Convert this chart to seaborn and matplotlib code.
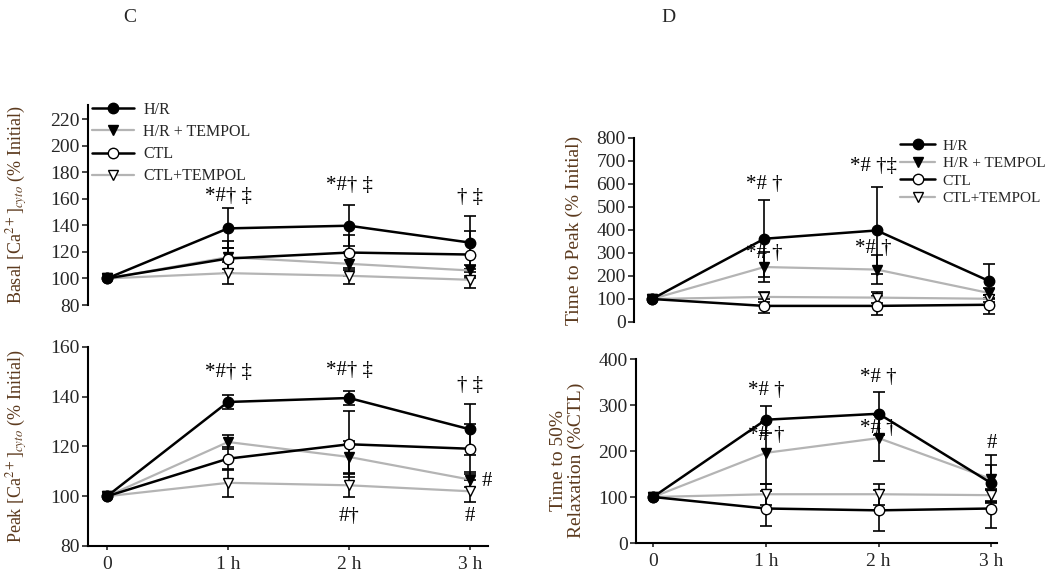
import matplotlib
matplotlib.use("Agg")
import matplotlib.pyplot as plt
import seaborn as sns
import numpy as np
import pandas as pd
from matplotlib.lines import Line2D

sns.set_style("white")
plt.rcParams['font.family'] = ['Liberation Serif', 'DejaVu Serif']
plt.rcParams['mathtext.fontset'] = 'stix'

# ---------------- data ----------------
time_pos = [0, 1, 2, 3]
time_labels = ["0", "1 h", "2 h", "3 h"]
series_names = ["H/R", "H/R + TEMPOL", "CTL", "CTL+TEMPOL"]

# Panel C top: Basal [Ca2+]cyto (% Initial)
basal_hr = [100, 137.7, 139.7, 127]
basal_hr_err = [0, 15, 15.5, 20]
basal_hrt = [100, 116, 111, 106]
basal_hrt_err = [0, 12, 9, 4]
basal_ctl = [100, 115, 119.5, 118]
basal_ctl_err = [0, 8, 13, 18]
basal_ctlt = [100, 104, 102, 99]
basal_ctlt_err = [0, 8.5, 6, 6]

# Panel C bottom: Peak [Ca2+]cyto (% Initial)
peak_hr = [100, 137.9, 139.5, 126.9]
peak_hr_err = [0, 3, 3, 10.3]
peak_hrt = [100, 121.8, 115.8, 106.7]
peak_hrt_err = [0, 3, 6.5, 3]
peak_ctl = [100, 115.1, 120.9, 119.1]
peak_ctl_err = [0, 4.7, 13.2, 10]
peak_ctlt = [100, 105.4, 104.4, 102]
peak_ctlt_err = [0, 5.7, 4.7, 4.5]

# Panel D top: Time to Peak (% Initial)
ttp_hr = [100, 362, 398, 178]
ttp_hr_err = [0, 167, 189, 76]
ttp_hrt = [100, 239, 228, 126]
ttp_hrt_err = [0, 65, 64, 20]
ttp_ctl = [100, 70, 70, 75]
ttp_ctl_err = [0, 31, 41, 42]
ttp_ctlt = [100, 109, 106, 101]
ttp_ctlt_err = [0, 21, 24, 15]

# Panel D bottom: Time to 50% Relaxation (%CTL)
t50_hr = [100, 268, 281, 130]
t50_hr_err = [0, 29, 47, 40]
t50_hrt = [100, 196, 228, 139]
t50_hrt_err = [0, 67, 50, 52]
t50_ctl = [100, 75, 71, 75]
t50_ctl_err = [0, 37, 44, 42]
t50_ctlt = [100, 106, 106, 104]
t50_ctlt_err = [0, 23, 23, 12]

# significance annotations (x, y, text)
basal_annot = [(1, 162, "*#† ‡"), (2, 170, "*#† ‡"), (3, 161, "† ‡")]
peak_annot = [(1, 149.9, "*#† ‡"), (2, 150.6, "*#† ‡"), (3, 144.5, "† ‡"),
              (3.14, 106, "#"), (2, 91.7, "#†"), (3, 91.7, "#")]
ttp_annot = [(1, 599, "*# †"), (1.97, 677, "*# †‡"), (1, 297, "*# †"), (1.97, 319, "*# †")]
t50_annot = [(1, 331, "*# †"), (2, 359, "*# †"), (1, 233, "*# †"), (2, 249, "*# †"), (3, 217, "#")]

# ---------------- style ----------------
GRAY = "#b4b4b4"
styles = {
    "H/R": dict(color="black", marker="o", mfc="black", lw=1.8, z=4),
    "H/R + TEMPOL": dict(color=GRAY, marker="v", mfc="black", lw=1.6, z=2),
    "CTL": dict(color="black", marker="o", mfc="white", lw=1.8, z=3),
    "CTL+TEMPOL": dict(color=GRAY, marker="v", mfc="white", lw=1.6, z=1),
}
LABEL_COLOR = "#5c3a1e"
MS = 7.5

fig = plt.figure(figsize=(10.5, 5.73), dpi=100)

def draw_panel(ax, vals, errs, ylim, yticks, annots, xlim, show_x):
    df = pd.DataFrame({
        "time": np.tile(time_pos, 4),
        "value": np.concatenate(vals),
        "err": np.concatenate(errs).astype(float),
        "series": np.repeat(series_names, 4),
    })
    for name in ["CTL+TEMPOL", "H/R + TEMPOL", "CTL", "H/R"]:
        st = styles[name]
        sub = df[df.series == name]
        e = sub.err.replace(0, np.nan)
        ax.errorbar(sub.time, sub.value, yerr=e, fmt="none", ecolor="black",
                    elinewidth=1.2, capsize=4, capthick=1.2, zorder=st["z"])
        sns.lineplot(data=sub, x="time", y="value", ax=ax, color=st["color"],
                     lw=st["lw"], marker=st["marker"], markersize=MS,
                     markerfacecolor=st["mfc"], markeredgecolor="black",
                     markeredgewidth=1.0, zorder=st["z"] + 5, legend=False)
    ax.set_xlim(*xlim)
    ax.set_ylim(*ylim)
    ax.set_yticks(yticks)
    ax.set_yticklabels([str(int(t)) for t in yticks])
    ax.tick_params(axis="y", direction="out", length=4, width=1.2, labelsize=14,
                   left=True, pad=2)
    sns.despine(ax=ax, top=True, right=True, bottom=not show_x)
    ax.spines["left"].set_linewidth(1.5)
    ax.spines["left"].set_color("black")
    if show_x:
        ax.spines["bottom"].set_linewidth(1.5)
        ax.spines["bottom"].set_color("black")
        ax.set_xticks(time_pos)
        ax.set_xticklabels(time_labels)
        ax.tick_params(axis="x", direction="out", length=3, width=1.2,
                       labelsize=14, bottom=True, pad=4)
    else:
        ax.set_xticks([])
    ax.set_xlabel("")
    for x, y, t in annots:
        ax.text(x, y, t, ha="center", va="center", fontsize=15, color="black",
                clip_on=False)

def legend_handles():
    hs = []
    for name in series_names:
        st = styles[name]
        hs.append(Line2D([0], [0], color=st["color"], lw=st["lw"], marker=st["marker"],
                         markersize=MS, markerfacecolor=st["mfc"],
                         markeredgecolor="black", markeredgewidth=1.0))
    return hs

# Panel C top
ax1 = fig.add_axes([88/1050, 1-305/573, 400/1050, 200/573])
draw_panel(ax1, [basal_hr, basal_hrt, basal_ctl, basal_ctlt],
           [basal_hr_err, basal_hrt_err, basal_ctl_err, basal_ctlt_err],
           (80, 230.6), np.arange(80, 221, 20), basal_annot, (-0.157, 3.149), False)
ax1.set_ylabel(r"Basal [Ca$^{2+}$]$_{cyto}$ (% Initial)", fontsize=13, color=LABEL_COLOR)
ax1.yaxis.set_label_coords(-0.145, 0.5)
ax1.legend(legend_handles(), series_names, loc="upper left",
           bbox_to_anchor=(92/1050, 1-102/573), bbox_transform=fig.transFigure,
           frameon=False, fontsize=11.5, handlelength=2.6, handletextpad=0.6,
           labelspacing=0.38, borderaxespad=0, borderpad=0)

# Panel C bottom
ax2 = fig.add_axes([88/1050, 1-546/573, 400/1050, 199/573])
draw_panel(ax2, [peak_hr, peak_hrt, peak_ctl, peak_ctlt],
           [peak_hr_err, peak_hrt_err, peak_ctl_err, peak_ctlt_err],
           (80, 160), np.arange(80, 161, 20), peak_annot, (-0.157, 3.149), True)
ax2.set_ylabel(r"Peak [Ca$^{2+}$]$_{cyto}$ (% Initial)", fontsize=13, color=LABEL_COLOR)
ax2.yaxis.set_label_coords(-0.145, 0.5)

# Panel D top
ax3 = fig.add_axes([634/1050, 1-322/573, 363/1050, 184/573])
draw_panel(ax3, [ttp_hr, ttp_hrt, ttp_ctl, ttp_ctlt],
           [ttp_hr_err, ttp_hrt_err, ttp_ctl_err, ttp_ctlt_err],
           (0, 800), np.arange(0, 801, 100), ttp_annot, (-0.16, 3.07), False)
ax3.set_ylabel("Time to Peak (% Initial)", fontsize=14, color=LABEL_COLOR)
ax3.yaxis.set_label_coords(-0.14, 0.5)
ax3.legend(legend_handles(), series_names, loc="upper left",
           bbox_to_anchor=(900/1050, 1-139/573), bbox_transform=fig.transFigure,
           frameon=False, fontsize=11, handlelength=2.3, handletextpad=0.5,
           labelspacing=0.25, borderaxespad=0, borderpad=0)

# Panel D bottom
ax4 = fig.add_axes([636/1050, 1-543/573, 361/1050, 184/573])
draw_panel(ax4, [t50_hr, t50_hrt, t50_ctl, t50_ctlt],
           [t50_hr_err, t50_hrt_err, t50_ctl_err, t50_ctlt_err],
           (0, 400), np.arange(0, 401, 100), t50_annot, (-0.151, 3.05), True)
ax4.set_ylabel("Time to 50%\nRelaxation (%CTL)", fontsize=14, color=LABEL_COLOR,
               linespacing=1.1)
ax4.yaxis.set_label_coords(-0.14, 0.45)

fig.text(130/1050, 1-18/573, "C", fontsize=14, ha="center", va="center")
fig.text(668/1050, 1-18/573, "D", fontsize=14, ha="center", va="center")

fig.savefig("out.png", dpi=100)
